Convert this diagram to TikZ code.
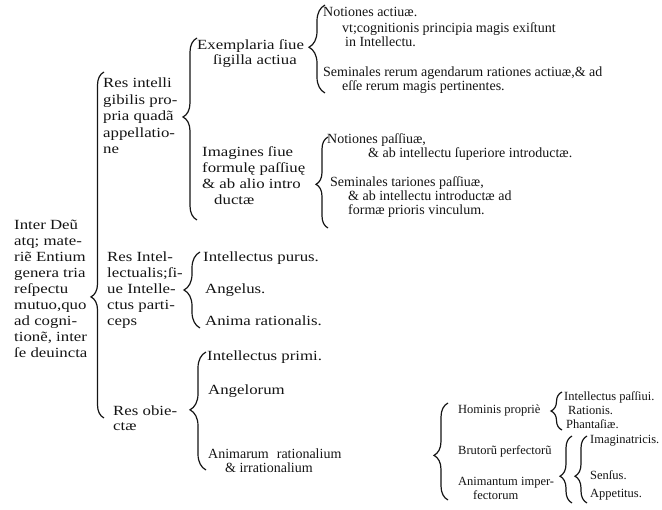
\documentclass[tikz,border=0pt]{standalone}
\usepackage{fontspec}
\setmainfont{Liberation Serif}
\newfontfamily\widefont[FakeStretch=1.2]{Liberation Serif}
\usepackage{tikz}
\usetikzlibrary{decorations.pathreplacing}
\definecolor{printink}{HTML}{141414}

\begin{document}
\begin{tikzpicture}[
  x=1pt, y=-1pt,
  txt/.style={anchor=base west, inner sep=0pt, align=left, text=printink, font=\widefont\fontsize{14}{16}\selectfont},
  txtr/.style={txt, font=\fontsize{14}{14}\selectfont},
  txtn/.style={txt, font=\fontsize{12.5}{14}\selectfont},
  brc/.style n args={2}{decorate, decoration={brace, amplitude=#1, aspect=#2}, line width=1.2pt, draw=printink}
]
\useasboundingbox (0,0) rectangle (662,510);

% first column (nodes sit on the baseline of their last line)
\node[txt] (genera) at (14,358)
  {Inter Deũ\\atq; mate-\\riẽ Entium\\genera tria\\reſpectu\\mutuo,quo\\ad cogni-\\tionẽ, inter\\ſe deuincta};

% the three kinds
\node[txt, font=\widefont\fontsize{14}{16.5}\selectfont] (intelligibilis) at (103,154)
  {Res intelli\\gibilis pro-\\pria quadã\\appellatio-\\ne};
\node[txt] (intellectualis) at (107,326) {Res Intel-\\lectualis;ſi-\\ue Intelle-\\ctus parti-\\ceps};
\node[txt, font=\widefont\fontsize{14}{15}\selectfont] (obiecta) at (113,431) {Res obie-\\ctæ};

% intelligibilis
\node[txt, font=\widefont\fontsize{14}{15}\selectfont] (exemplaria) at (197,65) {Exemplaria ſiue\\\hspace*{16pt}ſigilla actiua};
\node[txt] (imagines) at (202,205) {Imagines ſiue\\formulę paſſiuę\\\& ab alio intro\\\hspace*{12pt}ductæ};
\node[txtr] (notact) at (323,17) {Notiones actiuæ.};
\node[txtr] (principia) at (342,47) {vt;cognitionis principia magis exiſtunt\\\hspace*{3pt}in Intellectu.};
\node[txtr] (semact) at (323,91) {Seminales rerum agendarum rationes actiuæ,\& ad\\\hspace*{19pt}eſſe rerum magis pertinentes.};
\node[txtr] (notpas) at (327,158) {Notiones paſſiuæ,\\\hspace*{41pt}\& ab intellectu ſuperiore introductæ.};
\node[txtr] (sempas) at (330,215) {Seminales tariones paſſiuæ,\\\hspace*{18pt}\& ab intellectu introductæ ad\\\hspace*{18pt}formæ prioris vinculum.};

% intellectualis
\node[txt] (purus) at (203,262) {Intellectus purus.};
\node[txt] (angelus) at (205,294) {Angelus.};
\node[txt] (anima) at (205,326) {Anima rationalis.};

% obiecta
\node[txt] (primi) at (207,361) {Intellectus primi.};
\node[txt] (angelorum) at (208,395) {Angelorum};
\node[txtr] (animarum) at (208,473) {Animarum\hspace{8pt}rationalium\\\hspace*{17pt}\& irrationalium};
\node[txtn] (hominis) at (458,414) {Hominis propriè};
\node[txtn] (brutorum) at (458,455) {Brutorũ perfectorũ};
\node[txtn] (animantum) at (458,500) {Animantum imper-\\\hspace*{15pt}fectorum};
\node[txtn] (passiui) at (564,401) {Intellectus paſſiui.};
\node[txtn] (rationis) at (568,415) {Rationis.};
\node[txtn] (phantasiae) at (566,429) {Phantaſiæ.};
\node[txtn] (imaginatricis) at (590,444) {Imaginatricis.};
\node[txtn] (sensus) at (590,480) {Senſus.};
\node[txtn] (appetitus) at (590,498) {Appetitus.};

% braces
\coordinate (b1t) at (104,72);   \coordinate (b1b) at (104,418);
\coordinate (b2t) at (197,38);   \coordinate (b2b) at (197,220);
\coordinate (b3t) at (200,252);  \coordinate (b3b) at (200,328);
\coordinate (b4t) at (206,352);  \coordinate (b4b) at (206,470);
\coordinate (b5t) at (325,5);    \coordinate (b5b) at (325,93);
\coordinate (b6t) at (328,137);  \coordinate (b6b) at (328,228);
\coordinate (b7t) at (448,403);  \coordinate (b7b) at (448,500);
\coordinate (b8t) at (562,392);  \coordinate (b8b) at (562,430);
\coordinate (b9t) at (572,436);  \coordinate (b9b) at (572,503);
\coordinate (b10t) at (587,436); \coordinate (b10b) at (587,503);
\draw[brc={13pt}{0.35}] (b1b) -- (b1t);
\draw[brc={14pt}{0.566}] (b2b) -- (b2t);
\draw[brc={16pt}{0.5}] (b3b) -- (b3t);
\draw[brc={16pt}{0.51}] (b4b) -- (b4t);
\draw[brc={16pt}{0.52}] (b5b) -- (b5t);
\draw[brc={12pt}{0.48}] (b6b) -- (b6t);
\draw[brc={14pt}{0.46}] (b7b) -- (b7t);
\draw[brc={11pt}{0.5}] (b8b) -- (b8t);
\draw[brc={12pt}{0.4}] (b9b) -- (b9t);
\draw[brc={12pt}{0.4}] (b10b) -- (b10t);
\end{tikzpicture}
\end{document}
